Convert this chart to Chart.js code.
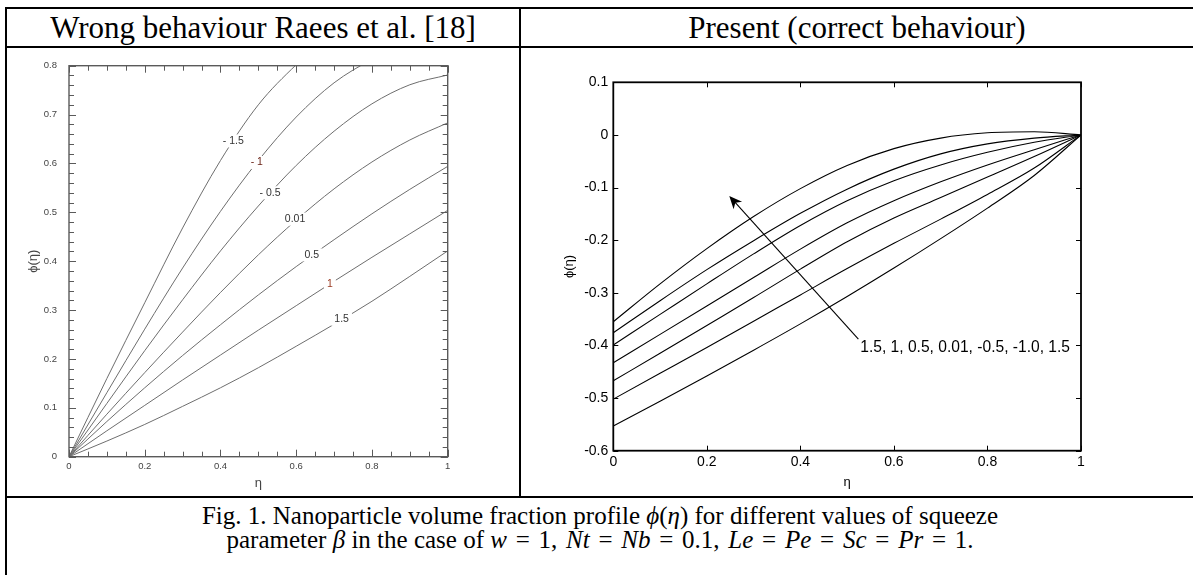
<!DOCTYPE html>
<html>
<head>
<meta charset="utf-8">
<script src="https://cdn.jsdelivr.net/npm/chart.js@4.4.1/dist/chart.umd.min.js"></script>
<style>
  body { margin: 0; background: #fff; }
  #page { position: relative; width: 1193px; height: 575px; overflow: hidden; background: #fff; }
  canvas { position: absolute; }
  .rule { position: absolute; background: #000; }
  .head { position: absolute; top: 9px; height: 37px; line-height: 37px; text-align: center;
          font-family: "Liberation Serif", "Times New Roman", serif; font-size: 31px; color: #000; white-space: nowrap; }
  #caption { position: absolute; left: 7px; width: 1186px; top: 504px; text-align: center;
             font-family: "Liberation Serif", "Times New Roman", serif; font-size: 25px; line-height: 23.5px; color: #000; }
  #caption i { font-style: italic; }
  #caption .m { word-spacing: 2.5px; }
</style>
</head>
<body>
<div id="page">
  <canvas id="wrong" width="510" height="448" style="left:8px;top:48px;width:510px;height:448px"></canvas>
  <canvas id="present" width="663" height="447" style="left:522px;top:49px;width:663px;height:447px"></canvas>

  <div class="head" style="left:7px;width:512px">Wrong behaviour Raees et al. [18]</div>
  <div class="head" style="left:521px;width:672px">Present (correct behaviour)</div>

  <div class="rule" style="left:5px;top:7px;width:1188px;height:2px"></div>
  <div class="rule" style="left:5px;top:46px;width:1188px;height:2px"></div>
  <div class="rule" style="left:5px;top:496px;width:1188px;height:2px"></div>
  <div class="rule" style="left:5px;top:7px;width:2px;height:568px"></div>
  <div class="rule" style="left:519px;top:7px;width:2px;height:491px"></div>

  <div id="caption">Fig. 1. Nanoparticle volume fraction profile <i>ϕ</i>(<i>η</i>) for different values of squeeze<br>parameter <i>β</i> in the case of <span class="m"><i>w</i> = 1, <i>Nt</i> = <i>Nb</i> = 0.1, <i>Le</i> = <i>Pe</i> = <i>Sc</i> = <i>Pr</i> = 1.</span></div>
</div>

<script>
// eta grid shared by both panels
const eta = [0, 0.1, 0.2, 0.3, 0.4, 0.5, 0.6, 0.7, 0.8, 0.9, 1];

// left panel (Raees et al.), one array per beta
const wrongBeta = ['-1.5', '-1', '-0.5', '0.01', '0.5', '1', '1.5'];
const wrongM15 = [0, 0.160, 0.315, 0.468, 0.606, 0.720, 0.802, 0.870, 0.930, 0.980, 1.020];
const wrongM1  = [0, 0.131, 0.261, 0.386, 0.502, 0.606, 0.695, 0.765, 0.813, 0.850, 0.880];
const wrongM05 = [0, 0.109, 0.217, 0.321, 0.421, 0.513, 0.596, 0.666, 0.722, 0.761, 0.781];
const wrong001 = [0, 0.087, 0.172, 0.255, 0.336, 0.413, 0.484, 0.548, 0.603, 0.648, 0.683];
const wrong05  = [0, 0.072, 0.141, 0.207, 0.270, 0.331, 0.389, 0.444, 0.497, 0.547, 0.594];
const wrong1   = [0, 0.053, 0.105, 0.157, 0.208, 0.259, 0.309, 0.359, 0.408, 0.456, 0.504];
const wrong15  = [0, 0.032, 0.066, 0.103, 0.141, 0.182, 0.226, 0.271, 0.318, 0.369, 0.421];
const wrongXTicks = [0, 0.2, 0.4, 0.6, 0.8, 1];
const wrongYTicks = [0, 0.1, 0.2, 0.3, 0.4, 0.5, 0.6, 0.7, 0.8];

// curve labels written on the left panel
const wrongLabelText = ['- 1.5', '- 1', '- 0.5', '0.01', '0.5', '1', '1.5'];
const wrongLabelEta  = [0.434, 0.496, 0.531, 0.597, 0.641, 0.689, 0.720];
const wrongLabelPhi  = [0.646, 0.602, 0.540, 0.486, 0.413, 0.354, 0.281];

// right panel (present), bottom curve to top curve
const presentBeta = ['1.5', '1', '0.5', '0.01', '-0.5', '-1.0', '-1.5'];
const present15  = [-0.553, -0.506, -0.458, -0.409, -0.359, -0.307, -0.253, -0.197, -0.139, -0.077, 0];
const present1   = [-0.502, -0.453, -0.404, -0.354, -0.304, -0.254, -0.206, -0.160, -0.113, -0.063, 0];
const present05  = [-0.467, -0.415, -0.362, -0.309, -0.255, -0.203, -0.158, -0.119, -0.080, -0.041, 0];
const present001 = [-0.433, -0.379, -0.325, -0.271, -0.217, -0.167, -0.125, -0.089, -0.057, -0.028, 0];
const presentM05 = [-0.399, -0.341, -0.283, -0.226, -0.172, -0.125, -0.087, -0.057, -0.033, -0.014, 0];
const presentM1  = [-0.376, -0.315, -0.256, -0.201, -0.149, -0.103, -0.065, -0.036, -0.017, -0.006, 0];
const presentM15 = [-0.355, -0.283, -0.216, -0.155, -0.102, -0.058, -0.026, -0.006, 0.004, 0.006, 0];
const presentXTicks = [0, 0.2, 0.4, 0.6, 0.8, 1];
const presentYTicks = [-0.6, -0.5, -0.4, -0.3, -0.2, -0.1, 0, 0.1];

// arrow annotation, in data units
const arrowFrom = [0.524, -0.388];
const arrowTo = [0.248, -0.116];
const arrowText = '1.5, 1, 0.5, 0.01, -0.5, -1.0, 1.5';
const arrowTextAt = [0.528, -0.405];

const pts = arr => eta.map((x, i) => ({ x: x, y: arr[i] }));
const SANS = "'Liberation Sans', Arial, sans-serif";

// frame around the plot area with ticks pointing inwards on all four sides
const boxTicks = {
  id: 'boxTicks',
  afterDatasetsDraw(chart, args, o) {
    const { ctx, chartArea: a } = chart;
    const xs = chart.scales.x, ys = chart.scales.y;
    ctx.save();
    ctx.strokeStyle = o.color;
    ctx.lineWidth = o.tickWidth;
    ctx.beginPath();
    const xt = (v, len) => {
      const p = Math.round(xs.getPixelForValue(v)) + 0.5;
      ctx.moveTo(p, a.bottom); ctx.lineTo(p, a.bottom - len);
      ctx.moveTo(p, a.top); ctx.lineTo(p, a.top + len);
    };
    const yt = (v, len) => {
      const p = Math.round(ys.getPixelForValue(v)) + 0.5;
      ctx.moveTo(a.left, p); ctx.lineTo(a.left + len, p);
      ctx.moveTo(a.right, p); ctx.lineTo(a.right - len, p);
    };
    if (o.xMinor) for (let v = 0; v <= xs.max + 1e-9; v += o.xMinor) xt(v, o.minorLen);
    if (o.yMinor) for (let v = ys.min; v <= ys.max + 1e-9; v += o.yMinor) yt(v, o.minorLen);
    xs.ticks.forEach(t => xt(t.value, o.majorLen));
    ys.ticks.forEach(t => yt(t.value, o.majorLen));
    ctx.stroke();
    ctx.lineWidth = o.frameWidth;
    ctx.strokeRect(a.left, a.top, a.right - a.left, a.bottom - a.top);
    ctx.restore();
  }
};

// inline labels sitting on the curves (white box hides the line under the text)
const curveLabels = {
  id: 'curveLabels',
  afterDatasetsDraw(chart, args, o) {
    const { ctx } = chart;
    const xs = chart.scales.x, ys = chart.scales.y;
    ctx.save();
    ctx.font = o.font;
    ctx.textAlign = 'center';
    ctx.textBaseline = 'middle';
    o.text.forEach((t, i) => {
      const px = xs.getPixelForValue(o.eta[i]);
      const py = ys.getPixelForValue(o.phi[i]);
      const w = ctx.measureText(t).width + 6;
      ctx.fillStyle = '#fff';
      ctx.fillRect(px - w / 2, py - 6.5, w, 13);
      ctx.fillStyle = o.colors[i];
      ctx.fillText(t, px, py);
    });
    ctx.restore();
  }
};

// arrow across the family of curves plus its text
const arrowNote = {
  id: 'arrowNote',
  afterDatasetsDraw(chart, args, o) {
    const { ctx } = chart;
    const xs = chart.scales.x, ys = chart.scales.y;
    const x0 = xs.getPixelForValue(o.from[0]), y0 = ys.getPixelForValue(o.from[1]);
    const x1 = xs.getPixelForValue(o.to[0]), y1 = ys.getPixelForValue(o.to[1]);
    const ang = Math.atan2(y1 - y0, x1 - x0);
    ctx.save();
    ctx.strokeStyle = '#000';
    ctx.fillStyle = '#000';
    ctx.lineWidth = 1.1;
    ctx.beginPath();
    ctx.moveTo(x0, y0);
    ctx.lineTo(x1 - 6 * Math.cos(ang), y1 - 6 * Math.sin(ang));
    ctx.stroke();
    const L = 14, spread = 0.42, notch = 9;
    ctx.beginPath();
    ctx.moveTo(x1, y1);
    ctx.lineTo(x1 - L * Math.cos(ang - spread), y1 - L * Math.sin(ang - spread));
    ctx.lineTo(x1 - notch * Math.cos(ang), y1 - notch * Math.sin(ang));
    ctx.lineTo(x1 - L * Math.cos(ang + spread), y1 - L * Math.sin(ang + spread));
    ctx.closePath();
    ctx.fill();
    ctx.font = o.font;
    ctx.textAlign = 'left';
    ctx.textBaseline = 'middle';
    ctx.fillText(o.text, xs.getPixelForValue(o.textAt[0]), ys.getPixelForValue(o.textAt[1]));
    ctx.restore();
  }
};

const fixedTicks = list => scale => { scale.ticks = list.map(v => ({ value: v })); };
const plain = v => String(v);

new Chart(document.getElementById('wrong'), {
  type: 'line',
  data: {
    datasets: [wrongM15, wrongM1, wrongM05, wrong001, wrong05, wrong1, wrong15].map((arr, i) => ({
      label: wrongBeta[i],
      data: pts(arr),
      borderColor: '#6e6e6e',
      borderWidth: 1,
      pointRadius: 0,
      cubicInterpolationMode: 'monotone',
      fill: false
    }))
  },
  options: {
    responsive: false,
    animation: false,
    devicePixelRatio: 1,
    layout: { padding: { left: 0, right: 70.3, top: 9.3, bottom: 0 } },
    plugins: {
      legend: { display: false },
      tooltip: { enabled: false },
      boxTicks: { color: '#5a5a5a', tickWidth: 1, frameWidth: 1.4, majorLen: 7, minorLen: 5, xMinor: 0.05, yMinor: 0.02 },
      curveLabels: {
        text: wrongLabelText, eta: wrongLabelEta, phi: wrongLabelPhi,
        font: "10.5px " + SANS,
        colors: ['#333', '#6b2418', '#333', '#333', '#333', '#9a3a22', '#333']
      }
    },
    scales: {
      x: {
        type: 'linear', min: 0, max: 1,
        afterBuildTicks: fixedTicks(wrongXTicks),
        afterFit(s) { s.height = 39.3; },
        grid: { display: false, drawTicks: false },
        border: { display: false },
        ticks: { color: '#444', font: { family: SANS, size: 9.5 }, padding: 4, maxRotation: 0, autoSkip: false, callback: plain },
        title: { display: true, text: 'η', color: '#444', font: { family: SANS, size: 13 }, padding: { top: 0, bottom: 4.7 } }
      },
      y: {
        type: 'linear', min: 0, max: 0.8,
        afterBuildTicks: fixedTicks(wrongYTicks),
        afterFit(s) { s.width = 61; },
        grid: { display: false, drawTicks: false },
        border: { display: false },
        ticks: { color: '#444', font: { family: SANS, size: 9.5 }, padding: 12, autoSkip: false, callback: plain },
        title: { display: true, text: 'ϕ(η)', color: '#444', font: { family: SANS, size: 13 }, padding: { top: 18, bottom: 0 } }
      }
    }
  },
  plugins: [boxTicks, curveLabels]
});

new Chart(document.getElementById('present'), {
  type: 'line',
  data: {
    datasets: [present15, present1, present05, present001, presentM05, presentM1, presentM15].map((arr, i) => ({
      label: presentBeta[i],
      data: pts(arr),
      borderColor: '#000',
      borderWidth: 1.1,
      pointRadius: 0,
      cubicInterpolationMode: 'monotone',
      fill: false
    }))
  },
  options: {
    responsive: false,
    animation: false,
    devicePixelRatio: 1,
    layout: { padding: { left: 0, right: 104, top: 33.3, bottom: 0 } },
    plugins: {
      legend: { display: false },
      tooltip: { enabled: false },
      boxTicks: { color: '#000', tickWidth: 1, frameWidth: 1.8, majorLen: 5, minorLen: 0, xMinor: 0, yMinor: 0 },
      arrowNote: { from: arrowFrom, to: arrowTo, text: arrowText, textAt: arrowTextAt, font: "15.6px " + SANS }
    },
    scales: {
      x: {
        type: 'linear', min: 0, max: 1,
        afterBuildTicks: fixedTicks(presentXTicks),
        afterFit(s) { s.height = 45.3; },
        grid: { display: false, drawTicks: false },
        border: { display: false },
        ticks: { color: '#000', font: { family: SANS, size: 14 }, padding: 3, maxRotation: 0, autoSkip: false, callback: plain },
        title: { display: true, text: 'η', color: '#000', font: { family: SANS, size: 13 }, padding: { top: 0, bottom: 5.7 } }
      },
      y: {
        type: 'linear', min: -0.6, max: 0.1,
        afterBuildTicks: fixedTicks(presentYTicks),
        afterFit(s) { s.width = 91.3; },
        grid: { display: false, drawTicks: false },
        border: { display: false },
        ticks: { color: '#000', font: { family: SANS, size: 14 }, padding: 5, autoSkip: false, callback: plain },
        title: { display: true, text: 'ϕ(η)', color: '#000', font: { family: SANS, size: 13 }, padding: { top: 39.2, bottom: 0 } }
      }
    }
  },
  plugins: [boxTicks, arrowNote]
});
</script>
</body>
</html>
